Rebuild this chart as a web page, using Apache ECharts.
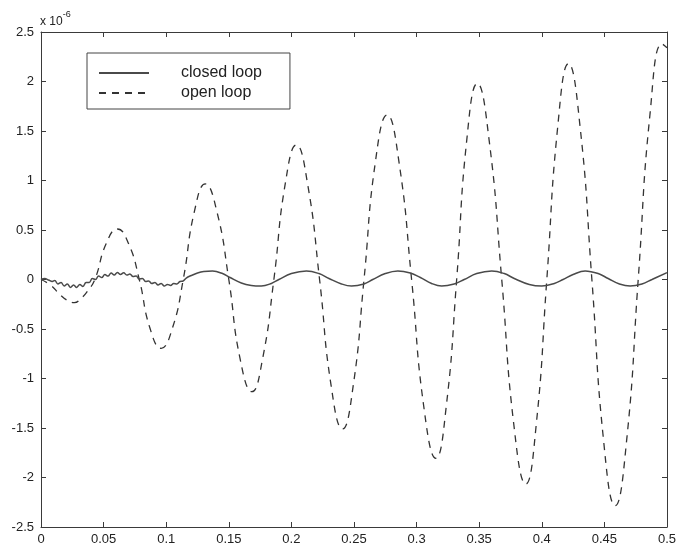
<!DOCTYPE html>
<html>
<head>
<meta charset="utf-8">
<script src="https://cdn.jsdelivr.net/npm/echarts@6/dist/echarts.min.js"></script>
<style>html,body{margin:0;padding:0;background:#fff}#c{width:680px;height:550px}</style>
</head>
<body>
<div id="c"></div>
<script>
const xTickLabels = ['0','0.05','0.1','0.15','0.2','0.25','0.3','0.35','0.4','0.45','0.5'];
const yTickLabels = ['-2.5','-2','-1.5','-1','-0.5','0','0.5','1','1.5','2','2.5'];
const seriesNames = ['closed loop', 'open loop'];

// open loop (units of 1e-6)
const openX = [0,0.008,0.015,0.021,0.0266,0.032,0.037,0.043,0.052,0.061,0.070,0.0785,0.087,0.096,0.105,0.1136,0.1224,0.1312,0.1406,0.15,0.159,0.1685,0.177,0.186,0.195,0.204,0.213,0.2225,0.2317,0.2408,0.2494,0.258,0.267,0.2765,0.286,0.296,0.3057,0.3154,0.3237,0.332,0.340,0.3485,0.358,0.368,0.3776,0.3872,0.3956,0.404,0.4127,0.4213,0.4306,0.440,0.4493,0.4586,0.4678,0.477,0.4865,0.496,0.5];
const openY = [0,-0.06,-0.15,-0.21,-0.234,-0.19,-0.12,0,0.36,0.51,0.36,0,-0.49,-0.695,-0.49,0,0.68,0.965,0.68,0,-0.80,-1.133,-0.80,0,0.96,1.359,0.96,0,-1.07,-1.51,-1.07,0,1.18,1.662,1.18,0,-1.28,-1.806,-1.28,0,1.40,1.98,1.40,0,-1.46,-2.066,-1.46,0,1.54,2.18,1.54,0,-1.62,-2.285,-1.62,0,1.68,2.38,2.34];

// closed loop (units of 1e-6)
const closedX = [0,0.003,0.006,0.009,0.011,0.0135,0.016,0.0185,0.021,0.0235,0.026,0.0285,0.031,0.0335,0.036,0.0385,0.041,0.0435,0.046,0.0485,0.051,0.0535,0.056,0.0585,0.061,0.0635,0.066,0.0685,0.071,0.0735,0.076,0.0785,0.081,0.0835,0.086,0.0885,0.091,0.0935,0.096,0.0985,0.101,0.1035,0.106,0.1085,0.111,0.1135,0.116,0.12,0.125,0.13,0.137,0.145,0.151,0.16,0.168,0.176,0.184,0.19,0.2,0.212,0.222,0.23,0.24,0.248,0.258,0.265,0.275,0.285,0.295,0.303,0.312,0.32,0.33,0.338,0.348,0.36,0.37,0.378,0.39,0.40,0.41,0.417,0.425,0.4346,0.445,0.453,0.462,0.4706,0.48,0.488,0.5];
const closedY = [0,0.01,-0.005,-0.02,-0.01,-0.045,-0.03,-0.065,-0.045,-0.08,-0.055,-0.08,-0.05,-0.07,-0.03,-0.03,0.01,0.0,0.035,0.02,0.05,0.035,0.065,0.045,0.07,0.05,0.068,0.045,0.055,0.03,0.035,0.005,0.01,-0.02,-0.015,-0.04,-0.03,-0.055,-0.04,-0.065,-0.05,-0.06,-0.04,-0.045,-0.02,-0.015,0.015,0.04,0.065,0.08,0.085,0.06,0.02,-0.035,-0.06,-0.066,-0.04,0.0,0.06,0.086,0.06,0.01,-0.045,-0.066,-0.045,0.0,0.06,0.086,0.065,0.02,-0.04,-0.066,-0.045,0.0,0.06,0.086,0.06,0.01,-0.05,-0.066,-0.04,0.0,0.05,0.086,0.06,0.01,-0.045,-0.066,-0.045,0.0,0.07];

const zip = (xs, ys) => xs.map((x, i) => [x, ys[i]]);
const fmtX = v => { const i = Math.round(v / 0.05); return xTickLabels[i] ?? ''; };
const fmtY = v => { const i = Math.round((v + 2.5) / 0.5); return yTickLabels[i] ?? ''; };

const frameColor = '#3a3a3a';
const font = 'Liberation Sans, Arial, Helvetica, sans-serif';
const axisCommon = () => ({
  axisLine: { show: true, onZero: false, lineStyle: { color: frameColor, width: 1 } },
  axisTick: { show: true, inside: true, length: 5, lineStyle: { color: frameColor } },
  splitLine: { show: false }
});

const chart = echarts.init(document.getElementById('c'));
chart.setOption({
  animation: false,
  backgroundColor: '#fff',
  grid: { left: 41, top: 32, right: 13, bottom: 23, containLabel: false },
  xAxis: [
    Object.assign({ type: 'value', min: 0, max: 0.5, interval: 0.05, position: 'bottom',
      axisLabel: { formatter: fmtX, color: '#222', fontSize: 13, fontFamily: font, margin: 6 } }, axisCommon()),
    Object.assign({ type: 'value', min: 0, max: 0.5, interval: 0.05, position: 'top',
      axisLabel: { show: false } }, axisCommon())
  ],
  yAxis: [
    Object.assign({ type: 'value', min: -2.5, max: 2.5, interval: 0.5, position: 'left',
      axisLabel: { formatter: fmtY, color: '#222', fontSize: 13, fontFamily: font, margin: 7 } }, axisCommon()),
    Object.assign({ type: 'value', min: -2.5, max: 2.5, interval: 0.5, position: 'right',
      axisLabel: { show: false } }, axisCommon())
  ],
  legend: {
    orient: 'vertical',
    left: 87, top: 53,
    data: seriesNames,
    itemWidth: 50, itemHeight: 14, itemGap: 4,
    padding: [12, 28, 8, 11],
    borderColor: '#444', borderWidth: 1, borderRadius: 0,
    backgroundColor: '#fff',
    itemStyle: { opacity: 0, borderWidth: 0 },
    textStyle: { fontSize: 16, fontFamily: font, color: '#222', padding: [0, 0, 0, 27] }
  },
  graphic: [{
    type: 'text', left: 40, top: 10,
    style: {
      text: '{a|x 10}{b|-6}',
      rich: {
        a: { fontSize: 12, fontFamily: font, fill: '#222', verticalAlign: 'bottom', padding: [6, 0, 0, 0] },
        b: { fontSize: 9, fontFamily: font, fill: '#222', verticalAlign: 'top' }
      }
    }
  }],
  series: [
    {
      name: seriesNames[0], type: 'line', xAxisIndex: 0, yAxisIndex: 0,
      data: zip(closedX, closedY), symbol: 'none', smooth: 0.4,
      lineStyle: { color: '#4a4a4a', width: 1.5, type: 'solid' },
      itemStyle: { color: '#4a4a4a' }, z: 3
    },
    {
      name: seriesNames[1], type: 'line', xAxisIndex: 0, yAxisIndex: 0,
      data: zip(openX, openY), symbol: 'none', smooth: 0.5,
      lineStyle: { color: '#333', width: 1.3, type: [7, 6] },
      itemStyle: { color: '#333' }, z: 2
    }
  ]
});
</script>
</body>
</html>
